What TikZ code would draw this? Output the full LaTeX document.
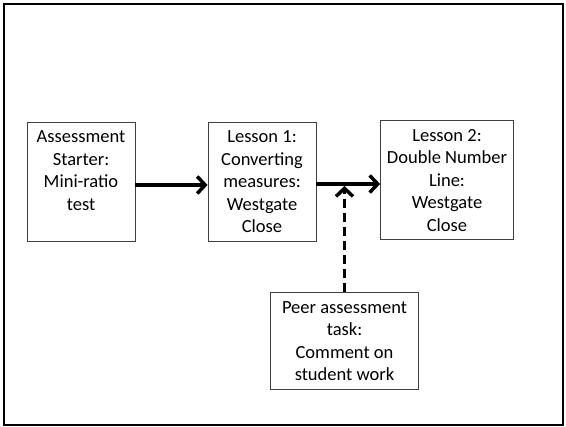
\documentclass[tikz,border=0pt]{standalone}
\usepackage{fontspec}
\setmainfont{Carlito}
\usetikzlibrary{positioning,arrows.meta}
\tikzstyle{block} = [draw=black!75, line width=0.8pt, rectangle, align=center, inner sep=2pt, minimum height=119pt, font=\fontsize{18.5}{22.5}\selectfont]
\tikzstyle{link} = [line width=3.5pt]

\begin{document}
\begin{tikzpicture}[x=1pt, y=-1pt, node distance=181pt, >={Straight Barb[length=8pt,width=17pt]}]

\useasboundingbox (0,0) rectangle (566,427);
\draw [line width=1.5pt] (4,4) rectangle (563,425);

\node [block, minimum width=108pt] (starter) at (81,182) {Assessment\\Starter:\\Mini-ratio\\test\\\vphantom{C}};
\node [block, minimum width=108pt, right of=starter] (lesson1) {Lesson 1:\\Converting\\measures:\\Westgate\\Close};
\node [block, minimum width=133pt, right of=lesson1, node distance=185pt, yshift=1.8pt] (lesson2) {Lesson 2:\\Double Number\\Line:\\Westgate\\Close};
\node [block, minimum width=148pt, minimum height=97pt] (peer) at (344.5,341) {Peer assessment\\task:\\Comment on\\student work};

\coordinate (junc) at (344.5,184);

\draw [->, link] (starter.east |- 0,185) -- (lesson1.west |- 0,185);
\draw [->, link] (lesson1.east |- junc) -- (lesson2.west |- junc);
\draw [->, link, dash pattern=on 9pt off 5pt] (peer) -- ([yshift=-2pt]junc);

\end{tikzpicture}
\end{document}
